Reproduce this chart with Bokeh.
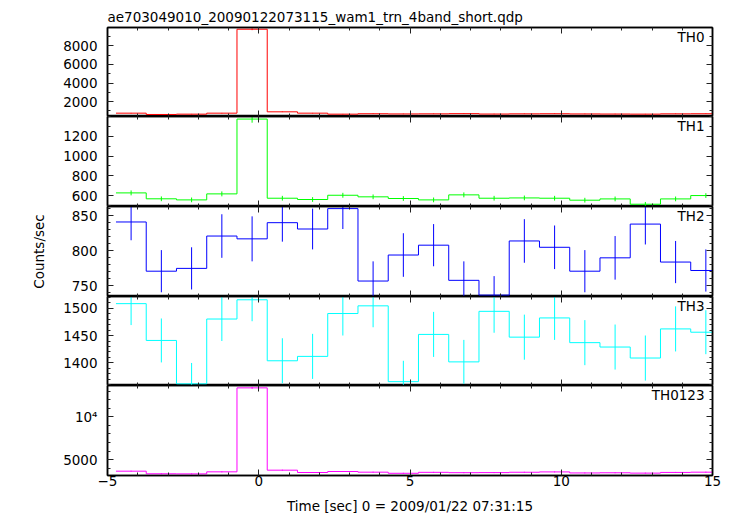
from bokeh.plotting import figure
from bokeh.layouts import column
from bokeh.models import (FixedTicker, LinearAxis, Label, Range1d, Title,
                          CustomLabelingPolicy)
from bokeh.embed import file_html
from bokeh.resources import INLINE

# ---------------- data ----------------
time_sec = [-4.22, -3.22, -2.22, -1.22, -0.22, 0.78, 1.78, 2.78, 3.78, 4.78,
            5.78, 6.78, 7.78, 8.78, 9.78, 10.78, 11.78, 12.78, 13.78, 14.78]
bin_half = 0.5

th0 = [753, 611, 646, 753, 9796, 897, 753, 646, 690, 670,
       680, 700, 660, 680, 690, 670, 660, 650, 680, 690]
th0_err = [27, 25, 25, 27, 99, 30, 27, 25, 26, 26,
           26, 26, 26, 26, 26, 26, 26, 25, 26, 26]
th1 = [627, 567, 556, 617, 1376, 573, 560, 603, 587, 570,
       556, 607, 573, 576, 573, 553, 566, 512, 566, 600]
th1_err = [25, 24, 24, 25, 37, 24, 24, 25, 24, 24,
           24, 25, 24, 24, 24, 24, 24, 23, 24, 24]
th2 = [841, 771, 775, 821, 817, 840, 831, 860, 757, 794,
       808, 758, 737, 814, 805, 771, 790, 838, 784, 772]
th2_err = [26, 30, 30, 31, 32, 27, 29, 29, 28, 31,
           30, 27, 27, 31, 31, 30, 31, 29, 30, 30]
th3 = [1508, 1441, 1362, 1480, 1515, 1404, 1412, 1490, 1504, 1366,
       1452, 1402, 1494, 1447, 1482, 1437, 1429, 1409, 1462, 1456]
th3_err = [39, 40, 38, 40, 39, 41, 41, 40, 39, 38,
           41, 40, 39, 41, 40, 41, 41, 41, 41, 40]
th0123 = [3637, 3330, 3320, 3559, 13403, 3754, 3481, 3598, 3520, 3390,
          3500, 3460, 3470, 3510, 3550, 3430, 3450, 3410, 3490, 3520]
th0123_err = [60, 58, 58, 60, 116, 61, 59, 60, 59, 58,
              59, 59, 59, 59, 60, 59, 59, 58, 59, 59]

panel_names = ["TH0", "TH1", "TH2", "TH3", "TH0123"]
panel_colors = ["#ff0000", "#00ff00", "#0000ff", "#00ffff", "#ff00ff"]
y_limits = [(393, 9982), (489, 1402), (735, 863), (1359, 1521), (3130, 13680)]
y_major = [[2000, 4000, 6000, 8000], [600, 800, 1000, 1200], [750, 800, 850],
           [1400, 1450, 1500], [5000, 10000]]
y_minor = [list(range(1000, 10000, 1000)), list(range(500, 1500, 100)),
           list(range(740, 870, 10)), list(range(1360, 1530, 10)),
           list(range(4000, 14000, 1000))]
y_overrides = [{}, {}, {}, {}, {10000: "10\u2074"}]

x_major = [-5, 0, 5, 10, 15]
x_minor = list(range(-5, 16))
x_overrides = {-5: "\u22125"}

title_text = "ae703049010_20090122073115_wam1_trn_4band_short.qdp"
x_label = "Time [sec] 0 = 2009/01/22 07:31:15"
y_label = "Counts/sec"

FONT = "DejaVu Sans"
FS = "13.5px"

series = [(th0, th0_err), (th1, th1_err), (th2, th2_err), (th3, th3_err), (th0123, th0123_err)]

x_range = Range1d(-5, 15)
frame_heights = [89, 90, 90, 89, 90]


def style_axis(ax, show_labels):
    ax.axis_line_color = "black"
    ax.axis_line_width = 1.5
    ax.major_tick_in = 6
    ax.major_tick_out = 0
    ax.minor_tick_in = 3
    ax.minor_tick_out = 0
    ax.major_tick_line_color = "#222222"
    ax.minor_tick_line_color = "#222222"
    ax.major_tick_line_width = 1
    ax.minor_tick_line_width = 1
    ax.major_label_text_font = FONT
    ax.major_label_text_font_size = FS
    ax.major_label_text_color = "black"
    if show_labels:
        ax.major_label_standoff = 10
    else:
        ax.major_label_text_font_size = "0px"
        ax.major_label_standoff = 0
        ax.major_label_policy = CustomLabelingPolicy(code="""
            for (const i of indices) {
                if (i < 0) yield i
            }
        """)


figs = []
n = len(panel_names)
for i in range(n):
    vals, errs = series[i]
    last = i == n - 1
    p = figure(frame_width=605, frame_height=frame_heights[i], x_range=x_range,
               y_range=Range1d(*y_limits[i]), output_backend="svg",
               toolbar_location=None, title=None,
               min_border_left=107, min_border_right=15,
               min_border_top=0, min_border_bottom=0)
    p.xgrid.visible = False
    p.ygrid.visible = False
    p.outline_line_color = "black"
    p.outline_line_width = 1.5
    p.background_fill_color = "white"
    p.border_fill_color = "white"

    xt = FixedTicker(ticks=x_major, minor_ticks=x_minor)
    yt = FixedTicker(ticks=y_major[i], minor_ticks=y_minor[i])

    ax_b = p.xaxis[0]
    ax_b.ticker = xt
    style_axis(ax_b, last)
    if last:
        ax_b.major_label_overrides = x_overrides
        ax_b.major_label_standoff = 0
        ax_b.axis_label = x_label
        ax_b.axis_label_text_font = FONT
        ax_b.axis_label_text_font_size = FS
        ax_b.axis_label_text_font_style = "normal"
        ax_b.axis_label_text_color = "black"
        ax_b.axis_label_standoff = 9

    ax_l = p.yaxis[0]
    ax_l.ticker = yt
    style_axis(ax_l, True)
    ax_l.major_label_overrides = y_overrides[i]
    if i == 2:
        ax_l.axis_label = y_label
        ax_l.axis_label_text_font = FONT
        ax_l.axis_label_text_font_size = FS
        ax_l.axis_label_text_font_style = "normal"
        ax_l.axis_label_text_color = "black"
        ax_l.axis_label_standoff = 22

    ax_t = LinearAxis(ticker=FixedTicker(ticks=x_major, minor_ticks=x_minor))
    style_axis(ax_t, False)
    p.add_layout(ax_t, "above")
    ax_r = LinearAxis(ticker=FixedTicker(ticks=y_major[i], minor_ticks=y_minor[i]))
    style_axis(ax_r, False)
    p.add_layout(ax_r, "right")

    if i == 0:
        p.min_border_top = 27
        p.title = Title(text=title_text, align="left", text_font=FONT,
                        text_font_size=FS, text_font_style="normal",
                        text_color="black", standoff=6)

    edges = [t - bin_half for t in time_sec] + [time_sec[-1] + bin_half]
    step_y = list(vals) + [vals[-1]]
    p.step(edges, step_y, mode="after", line_color=panel_colors[i], line_width=1)
    p.segment(x0=time_sec, x1=time_sec,
              y0=[v - e for v, e in zip(vals, errs)],
              y1=[v + e for v, e in zip(vals, errs)],
              line_color=panel_colors[i], line_width=1)

    p.add_layout(Label(x=15, y=y_limits[i][1], x_offset=-8, y_offset=-1,
                       text=panel_names[i], text_align="right", text_baseline="top",
                       text_font=FONT, text_font_size=FS, text_color="black"))
    figs.append(p)

layout = column(*figs, spacing=0)
open("out.html", "w").write(file_html(layout, INLINE))
